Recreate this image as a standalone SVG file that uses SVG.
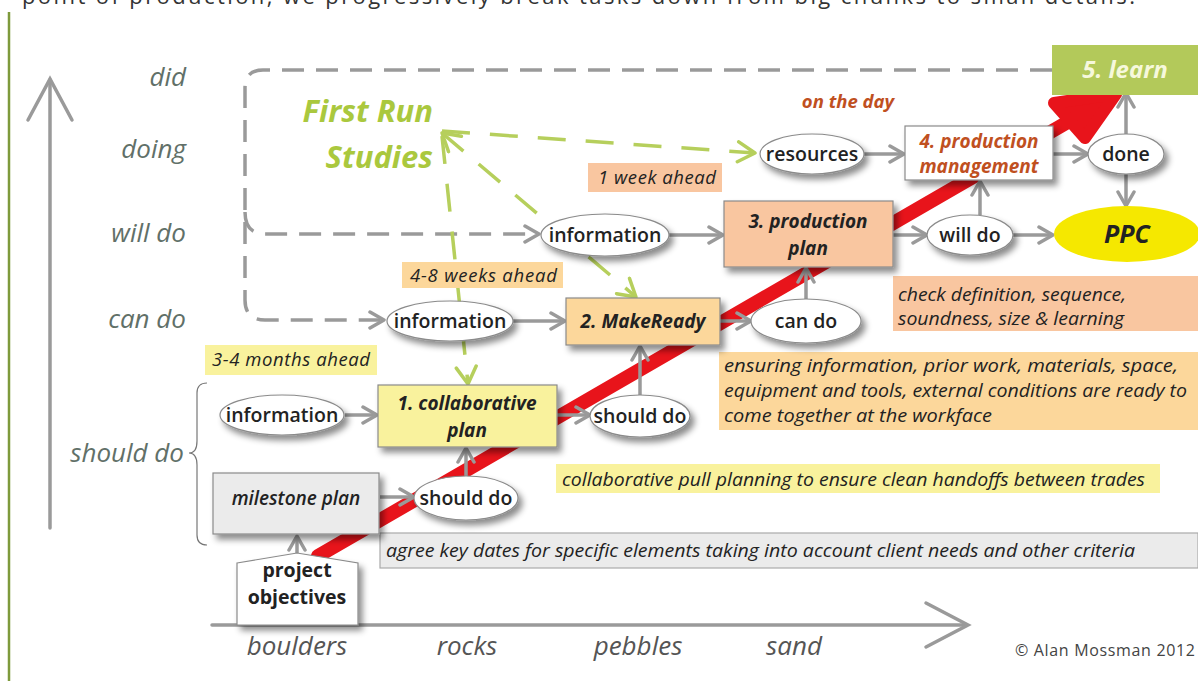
<svg xmlns="http://www.w3.org/2000/svg" width="1198" height="681" viewBox="0 0 1198 681">
  <defs>
    <filter id="sh" x="-20%" y="-20%" width="150%" height="160%">
      <feDropShadow dx="4" dy="5" stdDeviation="3" flood-color="#000" flood-opacity="0.45"/>
    </filter>
    <marker id="ah" viewBox="0 0 20 20" markerWidth="20" markerHeight="20" markerUnits="userSpaceOnUse" refX="17" refY="10" orient="auto">
      <path d="M3,2 L17,10 L3,18" fill="none" stroke="#9a9a9a" stroke-width="3.5" stroke-linecap="round" stroke-linejoin="round" stroke-dasharray="none"/>
    </marker>
    <marker id="gh" viewBox="0 0 24 24" markerWidth="24" markerHeight="24" markerUnits="userSpaceOnUse" refX="20" refY="12" orient="auto">
      <path d="M3,2 L20,12 L3,22" fill="none" stroke="#b6cf5c" stroke-width="3.5" stroke-linecap="round" stroke-linejoin="round" stroke-dasharray="none"/>
    </marker>
    <marker id="ghs" viewBox="0 0 24 24" markerWidth="24" markerHeight="24" markerUnits="userSpaceOnUse" refX="20" refY="12" orient="auto-start-reverse">
      <path d="M3,2 L20,12 L3,22" fill="none" stroke="#b6cf5c" stroke-width="3.5" stroke-linecap="round" stroke-linejoin="round" stroke-dasharray="none"/>
    </marker>
    <style>
      .ax { font-family: "Open Sans", "Liberation Sans", sans-serif; font-style: italic; font-size: 26px; fill: #617068; text-anchor: end; }
      .bx { font-family: "Open Sans", "Liberation Sans", sans-serif; font-style: italic; font-size: 26px; fill: #555; text-anchor: middle; }
      .et { font-family: "Open Sans", "Liberation Sans", sans-serif; font-weight: 600; font-size: 19.5px; fill: #222; text-anchor: middle; }
      .bt { font-family: "Open Sans", "Liberation Sans", sans-serif; font-weight: 700; font-style: italic; font-size: 19px; fill: #222; text-anchor: middle; }
      .nt { font-family: "Open Sans", "Liberation Sans", sans-serif; font-style: italic; font-size: 18.5px; fill: #222; }
      .ell { fill: #fff; stroke: #8a8a8a; stroke-width: 1.2; filter: url(#sh); }
      .box { stroke: #8a8a8a; stroke-width: 1.2; filter: url(#sh); }
      .conn { fill: none; stroke: #9a9a9a; stroke-width: 3.5; marker-end: url(#ah); }
      .gdash { fill: none; stroke: #9a9a9a; stroke-width: 3.5; stroke-dasharray: 22 12; marker-end: url(#ah); }
      .grn { fill: none; stroke: #b6cf5c; stroke-width: 3.5; stroke-dasharray: 28 20; }
      .peach { fill: #f9c6a0; }
      .orng { fill: #fcd79b; }
      .yell { fill: #f9f29d; }
      .grey { fill: #ebebeb; }
    </style>
  </defs>

  <rect width="1198" height="681" fill="#fff"/>

  <!-- page caption line and margin rule -->
  <text x="22" y="4" font-family="'Open Sans', 'Liberation Sans', sans-serif" font-size="22" fill="#333" textLength="1113" lengthAdjust="spacing">point of production, we progressively break tasks down from big chunks to small details.</text>
  <line x1="9" y1="12" x2="9" y2="681" stroke="#7e9a3c" stroke-width="2.5"/>

  <!-- axes -->
  <g id="axes" fill="none" stroke="#9a9a9a" stroke-width="3.5" stroke-linecap="round">
    <line x1="50" y1="80" x2="50" y2="528"/>
    <path d="M28,120 L50,79 L72,120"/>
    <line x1="212" y1="625" x2="966" y2="625"/>
    <path d="M926,603 L968,625 L926,647"/>
  </g>
  <g id="axis-labels">
    <text class="ax" x="186" y="86">did</text>
    <text class="ax" x="186" y="158">doing</text>
    <text class="ax" x="186" y="242">will do</text>
    <text class="ax" x="186" y="328">can do</text>
    <text class="ax" x="184" y="462">should do</text>
    <path d="M207,383 Q197,383 197,393 V441 Q197,453 189,453 Q197,453 197,465 V535 Q197,545 207,545" fill="none" stroke="#777" stroke-width="1.2"/>
    <text class="bx" x="297" y="655">boulders</text>
    <text class="bx" x="467" y="655">rocks</text>
    <text class="bx" x="638" y="655">pebbles</text>
    <text class="bx" x="794" y="655">sand</text>
    <text x="1195" y="656" text-anchor="end" font-family="'Open Sans', 'Liberation Sans', sans-serif" font-size="16" fill="#444" textLength="180" lengthAdjust="spacing">© Alan Mossman 2012</text>
  </g>

  <!-- First Run Studies -->
  <g id="first-run-studies">
    <text x="433" y="122" text-anchor="end" font-family="'Open Sans', 'Liberation Sans', sans-serif" font-weight="700" font-style="italic" font-size="31" fill="#aac83e">First Run</text>
    <text x="433" y="168" text-anchor="end" font-family="'Open Sans', 'Liberation Sans', sans-serif" font-weight="700" font-style="italic" font-size="31" fill="#aac83e">Studies</text>
  </g>

  <g id="connectors">
    <!-- feedback loops from learning -->
    <path class="gdash" d="M1052,70 H263 Q245,70 245,88 V300 Q245,320 265,320 H384"/>
    <path class="gdash" d="M245,212 Q245,234 265,234 H539"/>
    <!-- first run studies links -->
    <path class="grn" d="M442,131 L755,153" marker-end="url(#gh)"/>
    <path class="grn" d="M442,133 L636,297" marker-end="url(#gh)" marker-start="url(#ghs)"/>
    <path class="grn" d="M442,136 L468,384" marker-end="url(#gh)"/>

    <!-- main diagonal -->
    <g id="red-arrow" fill="#e8141b" stroke="#e8141b" stroke-linejoin="round" stroke-linecap="round">
      <line x1="318" y1="556" x2="1092" y2="108" stroke-width="14"/>
      <path d="M1054,103 L1116,94 L1085,138 Z" stroke-width="12"/>
    </g>

    <!-- solid flow connectors -->
    <path class="conn" d="M297,553 V536"/>
    <path class="conn" d="M380,497 H414"/>
    <path class="conn" d="M466,476 V448"/>
    <path class="conn" d="M345,415 H377"/>
    <path class="conn" d="M557,415 H590"/>
    <path class="conn" d="M640,395 V346"/>
    <path class="conn" d="M513,321 H565"/>
    <path class="conn" d="M720,321 H751"/>
    <path class="conn" d="M806,299 V268"/>
    <path class="conn" d="M669,235 H723"/>
    <path class="conn" d="M893,235 H927"/>
    <path class="conn" d="M980,215 V181"/>
    <path class="conn" d="M1013,235 H1053"/>
    <path class="conn" d="M864,154 H904"/>
    <path class="conn" d="M1053,154 H1088"/>
    <path class="conn" d="M1126,174 V206"/>
    <path class="conn" d="M1126,134 V93"/>
  </g>

  <!-- timing notes -->
  <g id="note-1week">
    <rect class="peach" x="588" y="163" width="134" height="29"/>
    <text class="nt" x="598" y="184" textLength="118" lengthAdjust="spacing">1 week ahead</text>
  </g>
  <g id="note-4-8weeks">
    <rect class="orng" x="402" y="262" width="161" height="26"/>
    <text class="nt" x="410" y="282" textLength="147" lengthAdjust="spacing">4-8 weeks ahead</text>
  </g>
  <g id="note-3-4months">
    <rect class="yell" x="205" y="345" width="172" height="30"/>
    <text class="nt" x="212" y="366" textLength="158" lengthAdjust="spacing">3-4 months ahead</text>
  </g>
  <g id="note-on-the-day">
    <text x="848" y="108" text-anchor="middle" font-family="'Open Sans', 'Liberation Sans', sans-serif" font-weight="700" font-style="italic" font-size="18.5" fill="#c0501f">on the day</text>
  </g>

  <!-- descriptive notes -->
  <g id="note-check">
    <rect class="peach" x="893" y="276" width="305" height="55"/>
    <text class="nt" x="898" y="301" textLength="228" lengthAdjust="spacingAndGlyphs">check definition, sequence,</text>
    <text class="nt" x="898" y="325" textLength="226" lengthAdjust="spacingAndGlyphs">soundness, size &amp; learning</text>
  </g>
  <g id="note-ensuring">
    <rect class="orng" x="719" y="352" width="479" height="78"/>
    <text class="nt" x="724" y="372" textLength="454" lengthAdjust="spacingAndGlyphs">ensuring  information, prior work, materials, space,</text>
    <text class="nt" x="724" y="397" textLength="463" lengthAdjust="spacingAndGlyphs">equipment and tools, external conditions are ready to</text>
    <text class="nt" x="724" y="422" textLength="268" lengthAdjust="spacingAndGlyphs">come together at the workface</text>
  </g>
  <g id="note-pull">
    <rect class="yell" x="556" y="464" width="604" height="29"/>
    <text class="nt" x="562" y="486" textLength="583" lengthAdjust="spacingAndGlyphs">collaborative pull planning to ensure clean handoffs between trades</text>
  </g>
  <g id="note-agree">
    <rect x="380" y="533" width="818" height="35" fill="#ebebeb" stroke="#aaa" stroke-width="1.2"/>
    <text class="nt" x="386" y="557" textLength="749" lengthAdjust="spacingAndGlyphs">agree key dates for specific elements taking into account client needs and other criteria</text>
  </g>

  <!-- nodes -->
  <g id="project-objectives">
    <path class="box" d="M237,563 L297,553 L358,563 V625 H237 Z" fill="#fff"/>
    <text class="et" x="297" y="577" style="font-weight:700">project</text>
    <text class="et" x="297" y="604" style="font-weight:700">objectives</text>
  </g>
  <g id="milestone-plan">
    <rect class="box grey" x="213" y="473" width="166" height="61"/>
    <text class="bt" x="296" y="505" style="font-weight:600">milestone plan</text>
  </g>
  <g id="should-do-1">
    <ellipse class="ell" cx="466" cy="498" rx="52" ry="22"/>
    <text class="et" x="466" y="505">should do</text>
  </g>
  <g id="information-1">
    <ellipse class="ell" cx="282" cy="415" rx="62" ry="20"/>
    <text class="et" x="282" y="422">information</text>
  </g>
  <g id="collaborative-plan">
    <rect class="box yell" x="378" y="385" width="179" height="62"/>
    <text class="bt" x="467" y="410">1. collaborative</text>
    <text class="bt" x="467" y="437">plan</text>
  </g>
  <g id="should-do-2">
    <ellipse class="ell" cx="640" cy="416" rx="50" ry="21"/>
    <text class="et" x="640" y="423">should do</text>
  </g>
  <g id="information-2">
    <ellipse class="ell" cx="450" cy="321" rx="63" ry="20"/>
    <text class="et" x="450" y="328">information</text>
  </g>
  <g id="make-ready">
    <rect class="box orng" x="566" y="298" width="154" height="47"/>
    <text class="bt" x="643" y="328">2. MakeReady</text>
  </g>
  <g id="can-do">
    <ellipse class="ell" cx="806" cy="321" rx="55" ry="22"/>
    <text class="et" x="806" y="328">can do</text>
  </g>
  <g id="information-3">
    <ellipse class="ell" cx="605" cy="235" rx="64" ry="21"/>
    <text class="et" x="605" y="242">information</text>
  </g>
  <g id="production-plan">
    <rect class="box peach" x="724" y="201" width="169" height="66"/>
    <text class="bt" x="808" y="228">3. production</text>
    <text class="bt" x="808" y="255">plan</text>
  </g>
  <g id="will-do">
    <ellipse class="ell" cx="970" cy="235" rx="43" ry="20"/>
    <text class="et" x="970" y="242">will do</text>
  </g>
  <g id="ppc">
    <ellipse cx="1127" cy="234" rx="73" ry="28" fill="#f5e800"/>
    <text x="1127" y="243" text-anchor="middle" font-family="'Open Sans', 'Liberation Sans', sans-serif" font-weight="700" font-style="italic" font-size="25" fill="#222">PPC</text>
  </g>
  <g id="resources">
    <ellipse class="ell" cx="812" cy="154" rx="52" ry="20"/>
    <text class="et" x="812" y="161">resources</text>
  </g>
  <g id="production-management">
    <rect class="box" x="905" y="126" width="148" height="54" fill="#fff"/>
    <text class="bt" x="979" y="148" style="fill:#c0501f">4. production</text>
    <text class="bt" x="979" y="173" style="fill:#c0501f">management</text>
  </g>
  <g id="done">
    <ellipse class="ell" cx="1126" cy="154" rx="38" ry="20"/>
    <text class="et" x="1126" y="161">done</text>
  </g>
  <g id="learn">
    <rect x="1052" y="45" width="146" height="50" fill="#b3c95a"/>
    <text x="1125" y="78" text-anchor="middle" font-family="'Open Sans', 'Liberation Sans', sans-serif" font-weight="700" font-style="italic" font-size="24" fill="#f6f8dc">5. learn</text>
  </g>
</svg>
